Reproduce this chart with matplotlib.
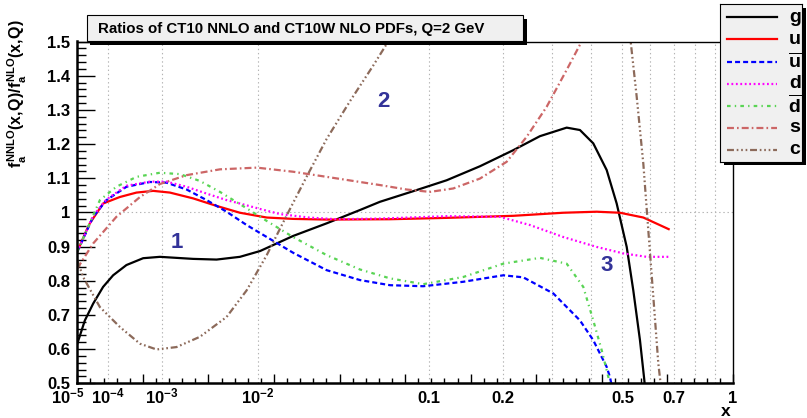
import numpy as np
import matplotlib
matplotlib.use("Agg")
import matplotlib.pyplot as plt
from matplotlib.patches import Rectangle

plt.rcParams['font.family'] = ['Liberation Sans', 'DejaVu Sans']
plt.rcParams['font.weight'] = 'bold'
plt.rcParams['mathtext.fontset'] = 'custom'
plt.rcParams['mathtext.rm'] = 'Liberation Sans:bold'
plt.rcParams['mathtext.it'] = 'Liberation Sans:bold'
plt.rcParams['mathtext.bf'] = 'Liberation Sans:bold'
plt.rcParams['lines.scale_dashes'] = False

# ratios NNLO/NLO
x_g = [1e-5, 2.03e-5, 3.9e-5, 7.6e-5, 1.35e-4, 2.6e-4, 5.2e-4, 9.4e-4, 2.47e-3, 4.34e-3,
       7.1e-3, 1.04e-2, 1.81e-2, 2.97e-2, 4.6e-2, 5.85e-2, 8.48e-2, 0.1194, 0.1634, 0.2185,
       0.2719, 0.3347, 0.3696, 0.4073, 0.4481, 0.4805, 0.5147, 0.5381, 0.5627, 0.5792, 0.585]
r_g = [0.616, 0.684, 0.733, 0.782, 0.816, 0.846, 0.866, 0.87, 0.864, 0.862,
       0.87, 0.887, 0.931, 0.968, 1.007, 1.031, 1.062, 1.094, 1.135, 1.182,
       1.223, 1.248, 1.241, 1.202, 1.124, 1.026, 0.899, 0.772, 0.626, 0.509, 0.46]

x_u = [1e-5, 2.34e-5, 3.05e-5, 7.6e-5, 1.9e-4, 4.0e-4, 7.5e-4, 1.29e-3, 2.47e-3, 4.34e-3,
       7.1e-3, 1.17e-2, 1.81e-2, 2.97e-2, 6.57e-2, 0.1194, 0.2185, 0.3261, 0.4174, 0.4915,
       0.5753, 0.678]
r_u = [0.885, 0.948, 0.968, 1.026, 1.045, 1.058, 1.063, 1.058, 1.041, 1.019,
       0.999, 0.985, 0.981, 0.979, 0.98, 0.984, 0.99, 0.999, 1.002, 0.999,
       0.985, 0.951]

x_ub = [1e-5, 3.9e-5, 9.3e-5, 2.6e-4, 6.7e-4, 1.16e-3, 2.08e-3, 3.45e-3, 5.4e-3, 8.1e-3,
        1.17e-2, 1.81e-2, 2.97e-2, 4.6e-2, 6.57e-2, 9.43e-2, 0.14, 0.2007, 0.2375, 0.302,
        0.3696, 0.4073, 0.4481, 0.4586, 0.465]
r_ub = [0.885, 0.987, 1.036, 1.075, 1.089, 1.087, 1.067, 1.036, 1.002, 0.963,
        0.928, 0.882, 0.831, 0.802, 0.787, 0.784, 0.797, 0.816, 0.81, 0.763,
        0.684, 0.626, 0.548, 0.518, 0.49]

x_d = [1e-5, 3.9e-5, 9.3e-5, 2.6e-4, 6.7e-4, 1.16e-3, 2.08e-3, 3.45e-3, 5.4e-3, 7.1e-3,
       1.04e-2, 1.47e-2, 2.3e-2, 3.4e-2, 5.85e-2, 0.1194, 0.1951, 0.2509, 0.3261, 0.4174,
       0.5029, 0.5883, 0.678]
r_d = [0.885, 0.99, 1.038, 1.078, 1.09, 1.09, 1.075, 1.055, 1.036, 1.026,
       1.01, 0.995, 0.985, 0.98, 0.982, 0.989, 0.987, 0.963, 0.928, 0.899,
       0.88, 0.87, 0.87]

x_db = [1e-5, 6.2e-5, 1.6e-4, 4.0e-4, 9.4e-4, 1.73e-3, 2.93e-3, 4.68e-3, 8.1e-3, 1.17e-2,
        1.81e-2, 2.97e-2, 4.6e-2, 6.57e-2, 9.43e-2, 0.14, 0.2007, 0.2719, 0.3347, 0.3788,
        0.4073, 0.4326, 0.4532, 0.46]
r_db = [0.885, 1.036, 1.075, 1.104, 1.116, 1.112, 1.092, 1.06, 1.012, 0.975,
        0.928, 0.875, 0.833, 0.807, 0.79, 0.811, 0.85, 0.867, 0.85, 0.782,
        0.684, 0.597, 0.519, 0.49]

x_s = [1e-5, 3.9e-5, 1.6e-4, 4.6e-4, 9.4e-4, 2.08e-3, 4.68e-3, 9.8e-3, 1.81e-2, 2.97e-2,
       5.85e-2, 7.9e-2, 0.101, 0.1273, 0.1634, 0.2066, 0.2442, 0.2868, 0.3347, 0.3743, 0.39]
r_s = [0.836, 0.909, 0.987, 1.045, 1.083, 1.109, 1.126, 1.131, 1.119, 1.104,
       1.08, 1.067, 1.06, 1.07, 1.099, 1.148, 1.221, 1.309, 1.417, 1.5, 1.54]

x_c = [1e-5, 1.74e-5, 6.2e-5, 1.9e-4, 4.58e-4, 8.4e-4, 1.57e-3, 2.93e-3, 5.4e-3, 8.1e-3,
       1.17e-2, 1.63e-2, 2.23e-2, 2.97e-2, 4.05e-2, 5.41e-2, 6.44e-2, 0.07, 0.3,
       0.52, 0.5287, 0.5506, 0.5753, 0.5945, 0.6143, 0.6345, 0.6414, 0.65]
r_c = [0.86, 0.811, 0.723, 0.665, 0.616, 0.599, 0.606, 0.636, 0.694, 0.772,
       0.875, 0.99, 1.105, 1.215, 1.325, 1.43, 1.5, 1.55, np.nan,
       1.55, 1.5, 1.338, 1.143, 0.948, 0.753, 0.558, 0.515, 0.47]

curves = [
    ("g", x_g, r_g, "black", "-"),
    ("u", x_u, r_u, "red", "-"),
    (r"$\overline{\mathbf{u}}$", x_ub, r_ub, "blue", (0, (3.6, 2.2))),
    ("d", x_d, r_d, "magenta", (0, (1.3, 1.9))),
    (r"$\overline{\mathbf{d}}$", x_db, r_db, "#59d454", (0, (2.6, 3.0, 1.0, 3.0))),
    ("s", x_s, r_s, "#cc6666", (0, (5.0, 2.2, 1.2, 2.2))),
    ("c", x_c, r_c, "#8c6a5a", (0, (5.0, 2.0, 1.2, 2.0, 1.2, 2.0, 1.2, 2.0))),
]

W, H = 807, 418
fig = plt.figure(figsize=(W / 100, H / 100), dpi=100)
ax = fig.add_axes([77.3 / W, 1 - 383.3 / H, (733 - 77.3) / W, (383.3 - 41.5) / H])

fwd = lambda v: np.sign(v) * np.abs(v) ** 0.25
inv = lambda t: np.sign(t) * np.abs(t) ** 4
ax.set_xscale('function', functions=(fwd, inv))
ax.set_xlim(1e-5, 1)
ax.set_ylim(0.5, 1.5)

# grid
for gx in [1e-4, 1e-3, 1e-2] + [0.1 * k for k in range(1, 10)]:
    ax.axvline(gx, color="#b4b4b4", lw=0.8, ls=(0, (1, 2)), zorder=0)
ax.axhline(1.0, color="#b4b4b4", lw=0.8, ls=(0, (1, 2)), zorder=0)

for name, xs, rs, col, ls in curves:
    ax.plot(xs, rs, color=col, ls=ls, lw=1.6, clip_on=True)

# ticks uniform in x^(1/4)
t0 = 1e-5 ** 0.25
ax.set_xticks(np.linspace(t0, 1, 11) ** 4)
ax.set_xticks(np.linspace(t0, 1, 51) ** 4, minor=True)
ax.set_xticklabels([])
ax.tick_params(axis='x', which='major', direction='in', length=6.5, width=1, top=False)
ax.tick_params(axis='x', which='minor', direction='in', length=3.6, width=1, top=False)

yt = [0.5, 0.6, 0.7, 0.8, 0.9, 1.0, 1.1, 1.2, 1.3, 1.4, 1.5]
ax.set_yticks(yt)
ax.set_yticklabels(["0.5", "0.6", "0.7", "0.8", "0.9", "1", "1.1", "1.2", "1.3", "1.4", "1.5"],
                   fontsize=12, fontweight='bold')
ax.set_yticks(np.arange(0.5, 1.501, 0.02), minor=True)
ax.tick_params(axis='y', which='major', direction='in', length=13, width=1, pad=5, right=False)
ax.tick_params(axis='y', which='minor', direction='in', length=6.5, width=1, right=False)

for sp in ['left', 'bottom']:
    ax.spines[sp].set_linewidth(1.8)
for sp in ['top', 'right']:
    ax.spines[sp].set_linewidth(1.0)

xlab_pos = [1e-5, 1e-4, 1e-3, 1e-2, 0.1, 0.2, 0.5, 0.7, 1.0]
xlab_txt = [r"$10^{-5}$", r"$10^{-4}$", r"$10^{-3}$", r"$10^{-2}$", "0.1", "0.2", "0.5", "0.7", "1"]
xlab_dx = [-9, 0, 0, 0, 0, 0, 0, 0, 0]
for xv, tx, dx in zip(xlab_pos, xlab_txt, xlab_dx):
    ax.annotate(tx, xy=(xv, 0), xycoords=('data', 'axes fraction'),
                xytext=(dx * 0.72, -14.5), textcoords='offset points',
                ha='center', va='baseline', fontsize=12, fontweight='bold')

fig.text(726 / W, 1 - 416 / H, "x", ha='center', va='baseline', fontsize=12.5, fontweight='bold')

fig.text(17 / W, 1 - 19 / H, r"$f_{a}^{NNLO}(x,\!Q)/f_{a}^{NLO}(x,\!Q)$", rotation=90,
         ha='center', va='top', fontsize=11.5)

# curve labels
lab_col = "#333399"
ax.text(1.571e-3, 0.912, "1", color=lab_col, fontsize=16, fontweight='bold', ha='center', va='center')
ax.text(0.0613, 1.323, "2", color=lab_col, fontsize=16, fontweight='bold', ha='center', va='center')
ax.text(0.448, 0.846, "3", color=lab_col, fontsize=16, fontweight='bold', ha='center', va='center')

# title box with shadow
def px_rect(x0, y0, x1, y1, **kw):
    return Rectangle((x0 / W, 1 - y1 / H), (x1 - x0) / W, (y1 - y0) / H,
                     transform=fig.transFigure, **kw)

fig.add_artist(px_rect(90, 19, 527, 44.5, facecolor='black', edgecolor='none', zorder=10))
fig.add_artist(px_rect(86.5, 15.5, 523, 40.7, facecolor='#f0f0f0', edgecolor='black', lw=0.8, zorder=11))
fig.text(98 / W, 1 - 28.5 / H, "Ratios of CT10 NNLO and CT10W NLO PDFs, Q=2 GeV",
         fontsize=10.8, fontweight='bold', ha='left', va='center', zorder=12)

# legend box with shadow
fig.add_artist(px_rect(724, 8, 805.5, 165, facecolor='black', edgecolor='none', zorder=10))
lax = fig.add_axes([720 / W, 1 - 162 / H, 82 / W, 158 / H], zorder=11)
lax.set_facecolor('#f0f0f0')
lax.set_xlim(0, 82)
lax.set_ylim(158, 0)
lax.set_xticks([])
lax.set_yticks([])
for sp in lax.spines.values():
    sp.set_linewidth(0.8)
for i, (name, xs, rs, col, ls) in enumerate(curves):
    yy = 13.3 + i * 22.1
    lax.plot([7, 57], [yy, yy], color=col, ls=ls, lw=1.6)
    lax.text(75, yy, name, fontsize=14, fontweight='bold', ha='center', va='center')

fig.savefig("out.png", dpi=100)
